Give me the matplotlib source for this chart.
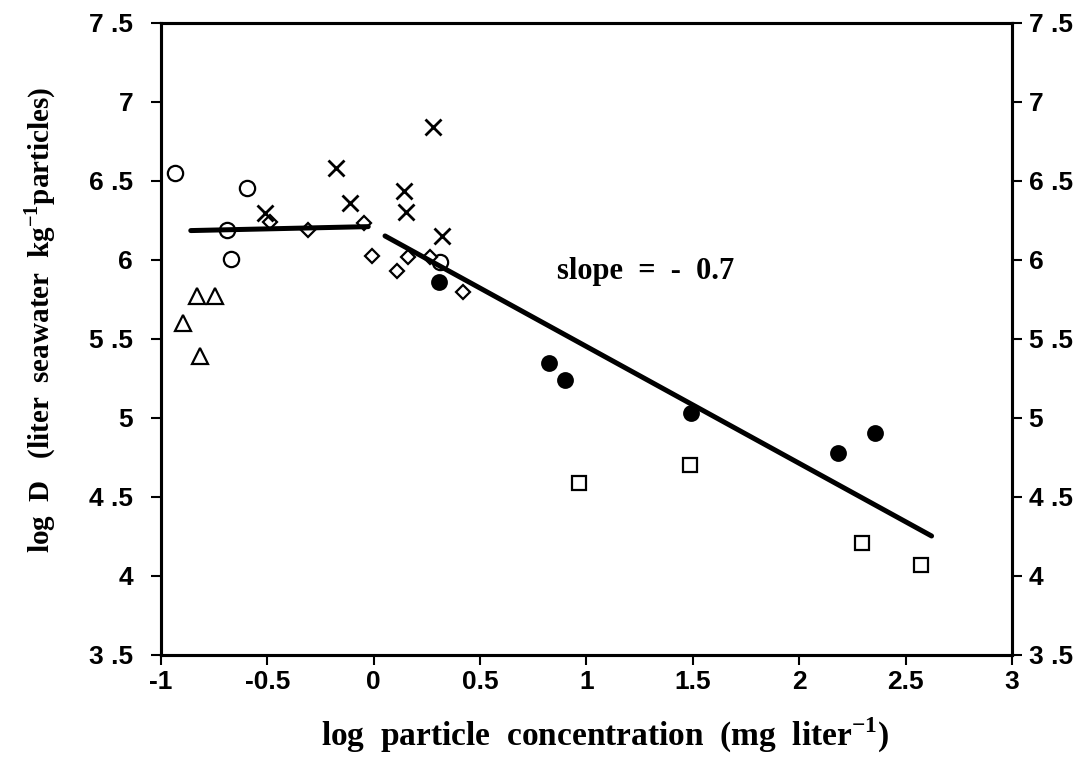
import matplotlib
matplotlib.use('Agg')
import matplotlib.pyplot as plt

# open circles
circ_x = [-0.934, -0.596, -0.69, -0.67, 0.311]
circ_y = [6.55, 6.456, 6.19, 6.006, 5.99]
# open triangles
tri_x = [-0.897, -0.831, -0.746, -0.817]
tri_y = [5.60, 5.77, 5.77, 5.39]
# crosses
cross_x = [-0.511, -0.177, -0.112, 0.277, 0.144, 0.150, 0.319]
cross_y = [6.297, 6.58, 6.363, 6.844, 6.439, 6.302, 6.152]
# open diamonds
dia_x = [-0.488, -0.308, -0.046, -0.007, 0.108, 0.159, 0.264, 0.421]
dia_y = [6.24, 6.19, 6.236, 6.025, 5.93, 6.021, 6.02, 5.796]
# filled circles
fill_x = [0.308, 0.822, 0.899, 1.490, 2.184, 2.356]
fill_y = [5.863, 5.350, 5.240, 5.030, 4.780, 4.903]
# open squares
sq_x = [0.965, 1.486, 2.296, 2.571]
sq_y = [4.590, 4.703, 4.207, 4.068]

# fitted lines
flat_x = [-0.86, -0.026]
flat_y = [6.186, 6.211]
slope_x = [0.053, 2.622]
slope_y = [6.152, 4.253]

xticks = [-1, -0.5, 0, 0.5, 1, 1.5, 2, 2.5, 3]
xtick_labels = ['-1', '-0.5', '0', '0.5', '1', '1.5', '2', '2.5', '3']
yticks = [3.5, 4, 4.5, 5, 5.5, 6, 6.5, 7, 7.5]
ytick_labels = ['3 .5', '4', '4 .5', '5', '5 .5', '6', '6 .5', '7', '7 .5']

plt.rcParams['mathtext.fontset'] = 'custom'
plt.rcParams['mathtext.rm'] = 'Liberation Serif:bold'
plt.rcParams['mathtext.bf'] = 'Liberation Serif:bold'

serif = ['Liberation Serif', 'DejaVu Serif']
sans = ['Liberation Sans', 'DejaVu Sans']
tick_font = dict(family=sans, fontweight='bold', fontsize=19)

fig = plt.figure(figsize=(10.82, 7.63), dpi=100)
ax = fig.add_axes([0.1488, 0.1416, 0.7865, 0.8283])

mk = dict(linestyle='none', color='black', markeredgewidth=1.6)
ax.plot(circ_x, circ_y, marker='o', markersize=11, markerfacecolor='white', **mk)
ax.plot(tri_x, tri_y, marker='^', markersize=12, markerfacecolor='white', **mk)
ax.plot(dia_x, dia_y, marker='D', markersize=7.5, markerfacecolor='white', **mk)
ax.plot(sq_x, sq_y, marker='s', markersize=10, markerfacecolor='white', **mk)
ax.plot(fill_x, fill_y, marker='o', markersize=10.5, markerfacecolor='black', **mk)
ax.plot(cross_x, cross_y, marker='x', markersize=11, markeredgewidth=2.0,
        linestyle='none', color='black')

ax.plot(flat_x, flat_y, color='black', linewidth=3.6, solid_capstyle='round')
ax.plot(slope_x, slope_y, color='black', linewidth=3.6, solid_capstyle='round')

ax.text(0.861, 5.93, 'slope  =  -  0.7', family=serif, fontweight='bold',
        fontsize=22, va='center', ha='left')

ax.set_xlim(-1, 3)
ax.set_ylim(3.5, 7.5)
ax.set_xticks(xticks)
ax.set_xticklabels(xtick_labels, **tick_font)
ax.set_yticks(yticks)
ax.set_yticklabels(ytick_labels, **tick_font)
ax.tick_params(axis='both', direction='out', length=7, width=1.5)
ax.tick_params(axis='x', pad=4)
ax.tick_params(axis='y', pad=13)
for s in ax.spines.values():
    s.set_linewidth(2.2)

# right-hand axis repeats the same scale
ax2 = ax.twinx()
ax2.set_ylim(3.5, 7.5)
ax2.set_yticks(yticks)
ax2.set_yticklabels(ytick_labels, **tick_font)
ax2.tick_params(axis='y', direction='out', length=7, width=1.5, pad=5)
for s in ax2.spines.values():
    s.set_linewidth(2.2)

fig.text(605 / 1082, 1 - 735 / 763, r'log  particle  concentration  (mg  liter$^{-1}$)',
         family=serif, fontweight='bold', fontsize=24, ha='center', va='center')
fig.text(40 / 1082, 1 - 320 / 763, r'log  D   (liter  seawater  kg$^{-1}$particles)',
         family=serif, fontweight='bold', fontsize=21, ha='center', va='center',
         rotation=90)

fig.savefig('out.png', dpi=100)
